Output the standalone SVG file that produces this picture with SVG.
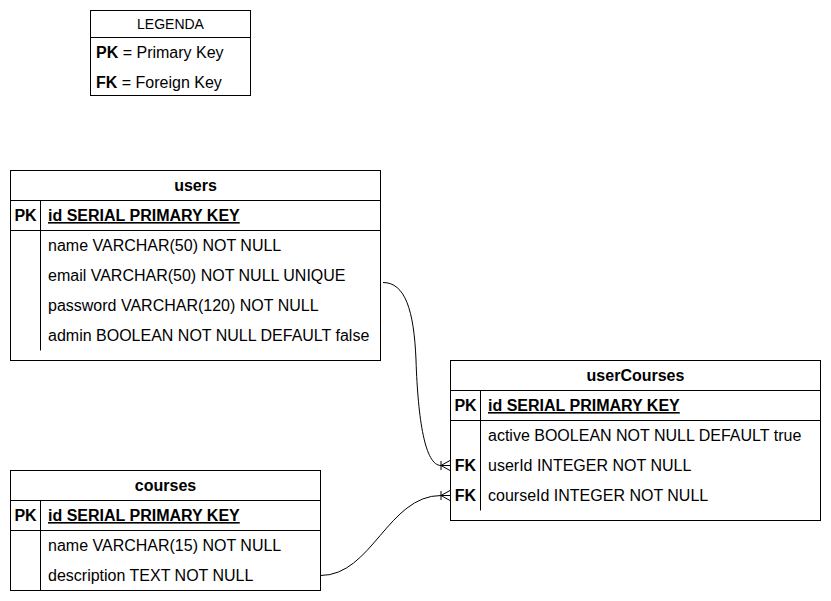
<svg xmlns="http://www.w3.org/2000/svg" width="831" height="601" viewBox="0 0 831 601">
<style>
.box{fill:#fff;stroke:#000;stroke-width:1}
.ln{stroke:#000;stroke-width:1;fill:none}
text{font-family:"Liberation Sans",Arial,sans-serif;font-size:16px;fill:#000}
.b{font-weight:bold}
.h{font-weight:bold;text-anchor:middle}
.pk{font-weight:bold;text-anchor:middle}
.u{font-weight:bold;text-decoration:underline}
.edge{stroke:#000;stroke-width:1;fill:none}
</style>
<defs>
<marker id="many" markerUnits="userSpaceOnUse" markerWidth="14" markerHeight="14" viewBox="-12 -7 14 14" refX="0" refY="0" orient="auto">
<path d="M -9 -4.5 L -9 4.5 M -9 0 L 0 -5 M -9 0 L 0 5 M -9 0 L 0 0" stroke="#000" stroke-width="1" fill="none"/>
</marker>
</defs>
<rect width="831" height="601" fill="#fff"/>
<g id="legend">
<rect class="box" x="90.5" y="10.5" width="160" height="85"/>
<line class="ln" x1="90.5" y1="37.5" x2="250.5" y2="37.5"/>
<text x="170.5" y="29" style="font-size:14px;text-anchor:middle">LEGENDA</text>
<text x="96" y="58"><tspan class="b">PK</tspan> = Primary Key</text>
<text x="96" y="88"><tspan class="b">FK</tspan> = Foreign Key</text>
</g>
<g id="users">
<rect class="box" x="10.5" y="170.5" width="370" height="190"/>
<line class="ln" x1="10.5" y1="200.5" x2="380.5" y2="200.5"/>
<line class="ln" x1="10.5" y1="230.5" x2="380.5" y2="230.5"/>
<line class="ln" x1="40.5" y1="200.5" x2="40.5" y2="350.5"/>
<text class="h" x="195.5" y="191">users</text>
<text class="pk" x="25.5" y="221">PK</text>
<text class="u" x="48" y="221">id SERIAL PRIMARY KEY</text>
<text x="48" y="251">name VARCHAR(50) NOT NULL</text>
<text x="48" y="281">email VARCHAR(50) NOT NULL UNIQUE</text>
<text x="48" y="311">password VARCHAR(120) NOT NULL</text>
<text x="48" y="341">admin BOOLEAN NOT NULL DEFAULT false</text>
</g>
<g id="userCourses">
<rect class="box" x="450.5" y="360.5" width="370" height="160"/>
<line class="ln" x1="450.5" y1="390.5" x2="820.5" y2="390.5"/>
<line class="ln" x1="450.5" y1="420.5" x2="820.5" y2="420.5"/>
<line class="ln" x1="480.5" y1="390.5" x2="480.5" y2="510.5"/>
<text class="h" x="635.5" y="381">userCourses</text>
<text class="pk" x="465.5" y="411">PK</text>
<text class="u" x="488" y="411">id SERIAL PRIMARY KEY</text>
<text x="488" y="441">active BOOLEAN NOT NULL DEFAULT true</text>
<text class="pk" x="465.5" y="471">FK</text>
<text x="488" y="471">userId INTEGER NOT NULL</text>
<text class="pk" x="465.5" y="501">FK</text>
<text x="488" y="501">courseId INTEGER NOT NULL</text>
</g>
<g id="courses">
<rect class="box" x="10.5" y="470.5" width="310" height="120"/>
<line class="ln" x1="10.5" y1="500.5" x2="320.5" y2="500.5"/>
<line class="ln" x1="10.5" y1="530.5" x2="320.5" y2="530.5"/>
<line class="ln" x1="40.5" y1="500.5" x2="40.5" y2="590.5"/>
<text class="h" x="165.5" y="491">courses</text>
<text class="pk" x="25.5" y="521">PK</text>
<text class="u" x="48" y="521">id SERIAL PRIMARY KEY</text>
<text x="48" y="551">name VARCHAR(15) NOT NULL</text>
<text x="48" y="581">description TEXT NOT NULL</text>
</g>
<g id="connectors">
<path class="edge" d="M 383 282.5 C 405 282.5, 414 310, 416 360 C 418 420, 425 465.5, 441 465.5 L 450 465.5" marker-end="url(#many)"/>
<path class="edge" d="M 320.5 575.5 C 372 575.5, 388 495.5, 441 495.5 L 450 495.5" marker-end="url(#many)"/>
</g>
</svg>
